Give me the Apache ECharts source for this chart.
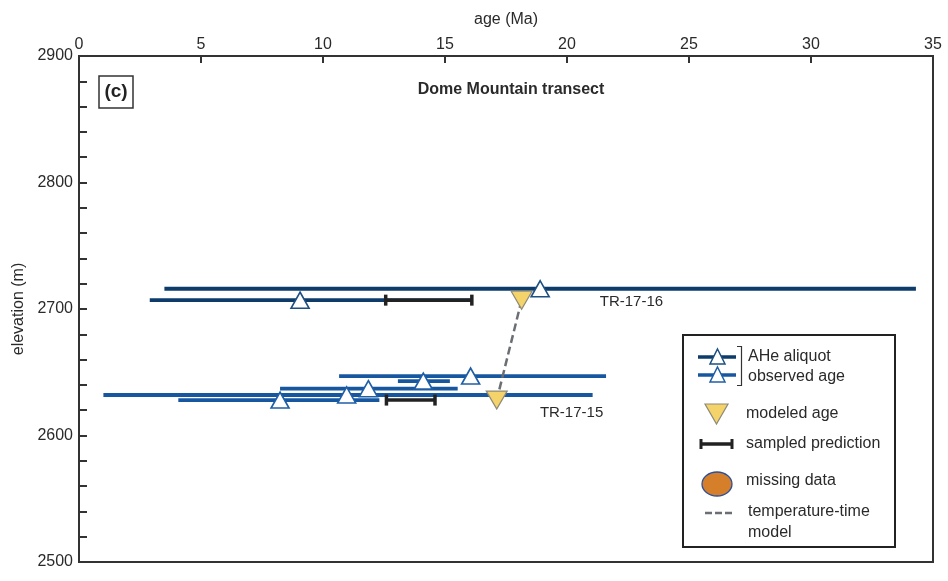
<!DOCTYPE html>
<html>
<head>
<meta charset="utf-8">
<script src="https://cdn.jsdelivr.net/npm/echarts@6/dist/echarts.min.js"></script>
<style>
html,body{margin:0;padding:0;background:#fff;}
#chart{width:948px;height:581px;}
</style>
</head>
<body>
<div id="chart"></div>
<script>
// ---- data ----
const xTicks = [0, 5, 10, 15, 20, 25, 30, 35];
const yTicks = [2500, 2600, 2700, 2800, 2900];

// TR-17-16 aliquots: observed age, error range, elevation
const ageTR16  = [18.9, 9.06];
const loTR16   = [3.5, 2.9];
const hiTR16   = [34.3, 16.1];
const elevTR16 = [2716, 2707];

// TR-17-15 aliquots
const ageTR15  = [16.05, 14.11, 11.86, 10.97, 8.24];
const loTR15   = [10.66, 13.07, 8.24, 1.0, 4.07];
const hiTR15   = [21.6, 15.2, 15.52, 21.05, 12.31];
const elevTR15 = [2647, 2643, 2637, 2632, 2628];

// sampled prediction ranges [min, max, elevation]
const predTR16 = [12.57, 16.1, 2707];
const predTR15 = [12.6, 14.59, 2628];

// modeled ages [age, elevation]
const modelTR16 = [18.14, 2707];
const modelTR15 = [17.12, 2628];
const sampleNames = ['TR-17-16', 'TR-17-15'];

// ---- styles ----
const NAVY = '#0d3c6b';
const BLUE = '#1657a0';
const FONT = '"Liberation Sans", Arial, sans-serif';
const TXT = '#2a2a2a';

function rangeData(lo, hi, el) { return lo.map((v, i) => [v, hi[i], el[i]]); }
function pointData(a, el) { return a.map((v, i) => [v, el[i]]); }

function errRender(color, w) {
  return function (params, api) {
    const y = api.value(2);
    const p1 = api.coord([api.value(0), y]);
    const p2 = api.coord([api.value(1), y]);
    return { type: 'line', shape: { x1: p1[0], y1: p1[1], x2: p2[0], y2: p2[1] },
             style: { stroke: color, lineWidth: w } };
  };
}
function predRender(params, api) {
  const y = api.value(2);
  const p1 = api.coord([api.value(0), y]);
  const p2 = api.coord([api.value(1), y]);
  const h = 5.5;
  const st = { stroke: '#222', lineWidth: 3.5 };
  return { type: 'group', children: [
    { type: 'line', shape: { x1: p1[0], y1: p1[1], x2: p2[0], y2: p2[1] }, style: st },
    { type: 'line', shape: { x1: p1[0], y1: p1[1] - h, x2: p1[0], y2: p1[1] + h }, style: st },
    { type: 'line', shape: { x1: p2[0], y1: p2[1] - h, x2: p2[0], y2: p2[1] + h }, style: st }
  ]};
}

const chart = echarts.init(document.getElementById('chart'), null, { renderer: 'canvas' });

const legendX = 683, legendY = 335;
const legendText = (t, x, y) => ({ type: 'text', z: 12, x: x, y: y,
  style: { text: t, font: '16px ' + FONT, fill: TXT, verticalAlign: 'middle' } });

const option = {
  animation: false,
  backgroundColor: '#fff',
  grid: { left: 79, right: 15, top: 56, bottom: 19, show: true, borderColor: '#333', borderWidth: 2 },
  xAxis: {
    type: 'value', position: 'top', min: xTicks[0], max: xTicks[xTicks.length - 1], interval: 5,
    name: 'age (Ma)', nameLocation: 'middle', nameGap: 28,
    nameTextStyle: { fontFamily: FONT, fontSize: 16, color: TXT },
    axisLine: { show: true, lineStyle: { color: '#333', width: 2 } },
    axisTick: { show: true, inside: true, length: 7, lineStyle: { color: '#333', width: 2 } },
    axisLabel: { fontFamily: FONT, fontSize: 16, color: TXT, margin: 3 },
    splitLine: { show: false }
  },
  yAxis: {
    type: 'value', min: yTicks[0], max: yTicks[yTicks.length - 1], interval: 100,
    name: 'elevation (m)', nameLocation: 'middle', nameGap: 51,
    nameTextStyle: { fontFamily: FONT, fontSize: 16, color: TXT },
    axisLine: { show: true, lineStyle: { color: '#333', width: 2 } },
    axisTick: { show: true, inside: true, length: 8, lineStyle: { color: '#333', width: 2 } },
    minorTick: { show: true, splitNumber: 5, length: 8, lineStyle: { color: '#333', width: 2 } },
    axisLabel: { fontFamily: FONT, fontSize: 16, color: TXT, margin: 6, formatter: v => String(v) },
    splitLine: { show: false }, minorSplitLine: { show: false }
  },
  title: {
    text: 'Dome Mountain transect', left: 506, top: 77, textAlign: 'center',
    textStyle: { fontFamily: FONT, fontSize: 16, fontWeight: 'bold', color: TXT }
  },
  series: [
    { type: 'custom', renderItem: errRender(NAVY, 3.8), data: rangeData(loTR16, hiTR16, elevTR16), z: 2, silent: true },
    { type: 'custom', renderItem: errRender(BLUE, 3.8), data: rangeData(loTR15, hiTR15, elevTR15), z: 2, silent: true },
    { type: 'custom', renderItem: predRender, data: [predTR16, predTR15], z: 3, silent: true },
    { type: 'line', data: [modelTR16, modelTR15], symbol: 'none', z: 4,
      lineStyle: { color: '#6b6e73', width: 2.5, type: [8, 4] } },
    { type: 'scatter', z: 5, symbol: 'triangle', symbolRotate: 180, symbolSize: [21, 18],
      itemStyle: { color: '#f4d36b', borderColor: '#8d8a78', borderWidth: 1.2, opacity: 1 },
      label: { show: true, position: 'right', fontFamily: FONT, fontSize: 15, color: TXT,
               formatter: p => sampleNames[p.dataIndex] },
      data: [
        { value: modelTR16, label: { offset: [62, 2] } },
        { value: modelTR15, label: { offset: [27, 13] } }
      ] },
    { type: 'scatter', z: 6, symbol: 'triangle', symbolSize: [18, 16], data: pointData(ageTR16, elevTR16),
      itemStyle: { color: '#fff', borderColor: '#1c4f82', borderWidth: 1.6, opacity: 1 } },
    { type: 'scatter', z: 6, symbol: 'triangle', symbolSize: [18, 16], data: pointData(ageTR15, elevTR15),
      itemStyle: { color: '#fff', borderColor: '#1f5fa6', borderWidth: 1.6, opacity: 1 } }
  ],
  graphic: [
    { type: 'rect', shape: { x: 99, y: 76, width: 34, height: 32 }, z: 10,
      style: { fill: '#fff', stroke: '#333', lineWidth: 1.5 } },
    { type: 'text', x: 116, y: 92, z: 11, style: { text: '(c)', font: 'bold 19px ' + FONT, fill: '#222', align: 'center', verticalAlign: 'middle' } },

    // legend box
    { type: 'rect', z: 10, shape: { x: legendX, y: legendY, width: 212, height: 212 },
      style: { fill: '#fff', stroke: '#222', lineWidth: 2 } },
    { type: 'line', z: 11, shape: { x1: 698, y1: 357, x2: 736, y2: 357 }, style: { stroke: NAVY, lineWidth: 3.5 } },
    { type: 'polygon', z: 12, shape: { points: [[717.5, 349], [725, 364], [710, 364]] }, style: { fill: '#fff', stroke: '#1c4f82', lineWidth: 1.5 } },
    { type: 'line', z: 11, shape: { x1: 698, y1: 375, x2: 736, y2: 375 }, style: { stroke: BLUE, lineWidth: 3.5 } },
    { type: 'polygon', z: 12, shape: { points: [[717.5, 367], [725, 382], [710, 382]] }, style: { fill: '#fff', stroke: '#1f5fa6', lineWidth: 1.5 } },
    { type: 'polyline', z: 11, shape: { points: [[737, 346.5], [741.5, 346.5], [741.5, 385.5], [737, 385.5]] }, style: { stroke: '#333', lineWidth: 1.2, fill: null } },
    { type: 'polygon', z: 11, shape: { points: [[705, 404], [728, 404], [716.5, 424]] }, style: { fill: '#f4d36b', stroke: '#8d8a78', lineWidth: 1.2 } },
    { type: 'line', z: 11, shape: { x1: 700, y1: 444, x2: 733, y2: 444 }, style: { stroke: '#222', lineWidth: 3.5 } },
    { type: 'line', z: 11, shape: { x1: 701, y1: 439, x2: 701, y2: 449 }, style: { stroke: '#222', lineWidth: 3 } },
    { type: 'line', z: 11, shape: { x1: 732, y1: 439, x2: 732, y2: 449 }, style: { stroke: '#222', lineWidth: 3 } },
    { type: 'ellipse', z: 11, shape: { cx: 717, cy: 484, rx: 15, ry: 12 }, style: { fill: '#d57f2a', stroke: '#2a4f9a', lineWidth: 1.3 } },
    { type: 'line', z: 11, shape: { x1: 705, y1: 513, x2: 734, y2: 513 }, style: { stroke: '#6b6e73', lineWidth: 2.5, lineDash: [7, 3] } },
    legendText('AHe aliquot', 748, 357),
    legendText('observed age', 748, 377),
    legendText('modeled age', 746, 414),
    legendText('sampled prediction', 746, 444),
    legendText('missing data', 746, 481),
    legendText('temperature-time', 748, 512),
    legendText('model', 748, 533)
  ]
};
chart.setOption(option);
</script>
</body>
</html>
